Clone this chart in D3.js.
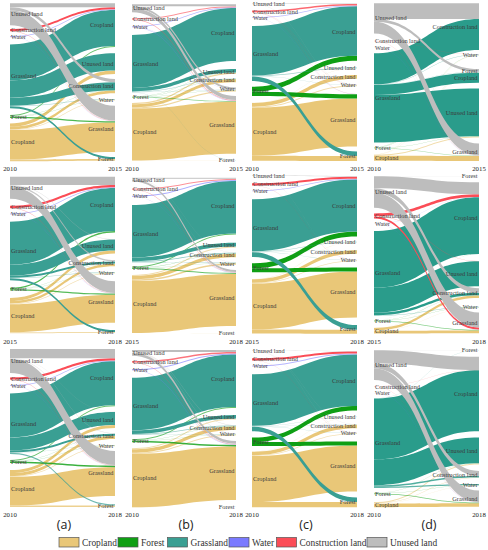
<!DOCTYPE html>
<html><head><meta charset="utf-8">
<style>html,body{margin:0;padding:0;background:#fff}svg{display:block}</style>
<script src="https://cdn.jsdelivr.net/npm/d3@7"></script></head>
<body><div id="chart"></div>
<script>
// Land-use classes
const sources = ["Unused land","Construction land","Water","Grassland","Forest","Cropland"];
const targets = ["Cropland","Unused land","Construction land","Water","Grassland","Forest"];
const legendNames = ["Cropland","Forest","Grassland","Water","Construction land","Unused land"];
const legendColors = ["#e9c778","#0f9f14","#3a9f93","#7a7aff","#fb4d57","#bdbdbd"];
const panelTags = ["(a)","(b)","(c)","(d)"];
const rowYears = [["2010","2015"],["2015","2018"],["2010","2018"]];
const orderStd = ["Cropland","Unused land","Construction land","Water","Grassland","Forest"];
const orderD1 = ["Construction land","Water","Forest","Cropland","Unused land","Grassland"];
const orderD23 = ["Forest","Cropland","Unused land","Construction land","Water","Grassland"];

// Flow matrices: rows = sources, columns = targets
const flowsA1=[[4,0,3.3,0,14.7,0],[2,0,0,0,.4,0],[.8,0,0,0,.3,0],[36,17.3,8,.6,0,2],[1,0,.3,.3,1.3,0],[0,3.3,2.7,.7,29.5,1.7]];
const flowsB1=[[2,0,0,2,4,0],[1,0,0,0,.6,0],[.8,0,0,.2,.4,0],[53,3.5,.5,.3,0,.2],[0,.2,.3,.2,.6,0],[0,1.3,3,1.2,52,.2]];
const flowsC1=[[.7,0,0,.3,0,0],[1.6,0,0,.2,.2,0],[.7,0,0,0,.1,0],[49.5,.6,.2,.2,0,4.5],[5,0,0,0,4.3,0],[0,.3,3.7,1,48,5]];
const flowsD1=[[0,0,15.7,0,11.7,2.7],[0,0,0,.2,.3,0],[0,0,0,.1,.2,0],[10,47.7,31,.3,0,.3],[0,.3,0,.3,.3,.2],[0,1,0,.2,5,.2]];
const flowsA2=[[8.3,.5,1.5,0,11.7,0],[2.3,0,0,0,.4,0],[.8,0,0,0,.3,0],[43,11,2,.5,0,2],[1.3,0,.2,.1,1.2,0],[0,3,2.5,.8,28,1]];
const flowsB2=[[1.2,0,.3,.3,2,0],[1,0,0,0,.5,0],[1,0,0,0,.4,0],[52.5,3.7,.8,.4,0,.1],[1,0,.3,.2,1,0],[0,1,3.5,1.5,52,.1]];
const flowsC2=[[.7,0,0,.3,0,0],[2.1,0,0,.2,0,0],[.7,0,0,0,0,0],[52,.5,.2,.3,0,4.7],[5,0,0,0,4,0],[0,.3,3.5,.7,46,4]];
const flowsD2=[[12,0,4.5,0,15,.2],[2.7,.3,0,0,2.1,0],[.2,0,0,0,.2,0],[56.7,25,2.5,.5,0,0],[.2,0,.2,.3,.6,0],[0,.2,2.5,.3,2.8,0]];
const flowsA3=[[9.3,.3,.5,0,14,0],[2.2,0,0,0,.4,0],[.8,0,0,0,.3,0],[44,13,2,.3,0,1.3],[1,0,.3,.3,1.5,0],[0,3,3,.8,28.7,1.5]];
const flowsB3=[[2,0,.5,.5,2.7,0],[1.4,0,0,0,.6,0],[1,0,0,0,.5,0],[52.7,3.5,.7,.3,0,.1],[1,0,.3,.2,1.5,0],[0,1,3.5,1,53.5,.1]];
const flowsC3=[[.5,0,.2,.3,0,0],[2.1,0,0,.2,0,0],[.8,0,0,0,0,0],[51.5,.4,.2,.3,0,4.5],[4.5,0,0,0,4,0],[0,.2,3.5,.8,46,5.3]];
const flowsD3=[[13.3,0,5,0,11.5,.2],[.2,0,0,0,.2,0],[0,0,0,.1,.2,0],[61,25.7,1.5,1.3,0,.2],[.1,.1,.2,.3,.8,.1],[0,1,.5,.2,3.5,0]];
const flowTable=[[flowsA1,flowsB1,flowsC1,flowsD1],[flowsA2,flowsB2,flowsC2,flowsD2],[flowsA3,flowsB3,flowsC3,flowsD3]];
const orderTable=[[orderStd,orderStd,orderStd,orderD1],[orderStd,orderStd,orderStd,orderD23],[orderStd,orderStd,orderStd,orderD23]];

// ---- layout (spacing between nodes, same units as the flows) ----
const gapTable=[
 [{l:[0,3.7,4.7,7.2,6.8,5.4],r:[0,6.2,5,5.7,5.3,5.1]},
  {l:[0,6,6.1,7.5,4,5.3],r:[0,8,4.3,5.3,4.7,6.3]},
  {l:[0,6.3,4.7,7.9,5.7,6.7],r:[0,6.8,6.4,5.7,7.7,5]},
  {l:[0,7.3,6.5,5.3,4.7,6],r:[0,4.3,13.7,.3,5.7,6]}],
 [{l:[0,7,5,7.2,7.5,7.5],r:[0,6.7,6.5,5.8,7.7,7.3]},
  {l:[0,6.9,5.8,7.9,4,5.9],r:[0,8.3,5,5,5.3,7.1]},
  {l:[0,7.3,5,8,6.3,6.7],r:[1,5.2,7.5,6,6.2,7.7]},
  {l:[0,5.7,4.9,7.3,4.3,6.3],r:[0,6.1,6.9,1.8,8.7,4.7]}],
 [{l:[0,4.3,5,7.3,6,7],r:[0,5.3,5.3,5.9,4.7,8.4]},
  {l:[0,5.3,6,7.2,4.3,6],r:[0,7,5.5,3.3,5.7,6.9]},
  {l:[0,7.3,5,7.9,6.4,5.4],r:[1,6.3,7,4.3,7.3,6]},
  {l:[0,6.3,6.3,5,4.7,7.7],r:[0,6.2,6.3,6.5,5.8,4.8]}]];
const colX=[[10,115],[132,236],[252,357],[374,479]];
const rowTop=[[3.3,4.3,3.3,3.3],[176.7,177.7,175,176],[349,350,350,350]];
const yearY=[171,344,517];
const colorOf=new Map([["Cropland","#e9c778"],["Forest","#0f9f14"],["Grassland","#3a9f93"],["Water","#7a7aff"],["Construction land","#fb4d57"],["Unused land","#bdbdbd"]]);
const darkTeal="#2a9c8b";
const serif='"Liberation Serif","Times New Roman",serif';
const fade=d3.scaleLinear().domain([.1,2]).range([.3,1]).clamp(true);

const svg=d3.select("#chart").append("svg").attr("width",488).attr("height",550);

function layout(flows,order,gaps,top){
  const y=d3.scaleLinear().domain([0,160]).range([top,top+160]);
  const tIdx=order.map(n=>targets.indexOf(n));
  const leftNodes=[],rightNodes=[],links=[];
  let cur=0;
  const lPos={};
  sources.forEach((s,i)=>{
    cur+=gaps.l[i];
    const total=d3.sum(flows[i]);
    leftNodes.push({name:s,y0:y(cur),y1:y(cur+total)});
    let c=cur;
    tIdx.forEach(t=>{const v=flows[i][t]; lPos[i+"_"+t]=c; c+=v;});
    cur+=total;
  });
  cur=0;
  order.forEach((n,k)=>{
    cur+=gaps.r[k];
    const t=tIdx[k];
    const total=d3.sum(flows,row=>row[t]);
    rightNodes.push({name:n,y0:y(cur),y1:y(cur+total)});
    let c=cur;
    sources.forEach((s,i)=>{
      const v=flows[i][t];
      if(v>0) links.push({s:i,v:v,l0:y(lPos[i+"_"+t]),l1:y(lPos[i+"_"+t]+v),r0:y(c),r1:y(c+v)});
      c+=v;
    });
    cur+=total;
  });
  return {leftNodes,rightNodes,links};
}
function ribbon(l,x0,x1){
  const m=(x0+x1)/2,p=d3.path();
  p.moveTo(x0,l.l0);
  p.bezierCurveTo(m,l.l0,m,l.r0,x1,l.r0);
  p.lineTo(x1,l.r1);
  p.bezierCurveTo(m,l.r1,m,l.l1,x0,l.l1);
  p.closePath();
  return p.toString();
}
flowTable.forEach((rowF,r)=>{
  rowF.forEach((flows,c)=>{
    const [x0,x1]=colX[c];
    const L=layout(flows,orderTable[r][c],gapTable[r][c],rowTop[r][c]);
    const g=svg.append("g");
    // later sources in the list are painted first
    const sorted=L.links.slice().sort((a,b)=>b.s-a.s);
    g.selectAll("path").data(sorted).join("path")
      .attr("d",d=>ribbon(d,x0,x1))
      .attr("fill-opacity",d=>fade(d.v))
      .attr("fill",d=>{
        const n=sources[d.s];
        if(n==="Grassland"&&c===3) return darkTeal;
        return colorOf.get(n);
      });
    const lab=g.append("g").attr("font-family",serif).attr("font-size",6.3).attr("fill","#3a3a3a");
    lab.selectAll("text.l").data(L.leftNodes).join("text").attr("class","l")
      .attr("x",x0+1).attr("y",d=>(d.y0+d.y1)/2+2).text(d=>d.name);
    lab.selectAll("text.r").data(L.rightNodes).join("text").attr("class","r")
      .attr("x",x1-1.5).attr("y",d=>(d.y0+d.y1)/2+2).attr("text-anchor","end").text(d=>d.name);
    const yr=g.append("g").attr("font-family",serif).attr("font-size",6.8).attr("fill","#222").attr("text-anchor","middle");
    yr.append("text").attr("x",x0).attr("y",yearY[r]).text(rowYears[r][0]);
    yr.append("text").attr("x",x1).attr("y",yearY[r]).text(rowYears[r][1]);
  });
});
// panel tags
const tagX=[64,186,306,429];
svg.append("g").selectAll("text").data(panelTags).join("text")
  .attr("x",(d,i)=>tagX[i]).attr("y",529).attr("text-anchor","middle")
  .attr("font-family",'"Open Sans",sans-serif').attr("font-size",12.5).attr("fill","#222").text(d=>d);
// legend
const swatchX=[59,118,167.5,229,276.5,367];
const leg=svg.append("g").selectAll("g").data(legendNames).join("g");
leg.append("rect").attr("x",(d,i)=>swatchX[i]).attr("y",537.5).attr("width",20).attr("height",9.5)
  .attr("fill",(d,i)=>legendColors[i]).attr("stroke","#555").attr("stroke-width",.7);
leg.append("text").attr("x",(d,i)=>swatchX[i]+23).attr("y",545.5)
  .attr("font-family",serif).attr("font-size",9.4).attr("fill","#333").text(d=>d);
</script></body></html>
